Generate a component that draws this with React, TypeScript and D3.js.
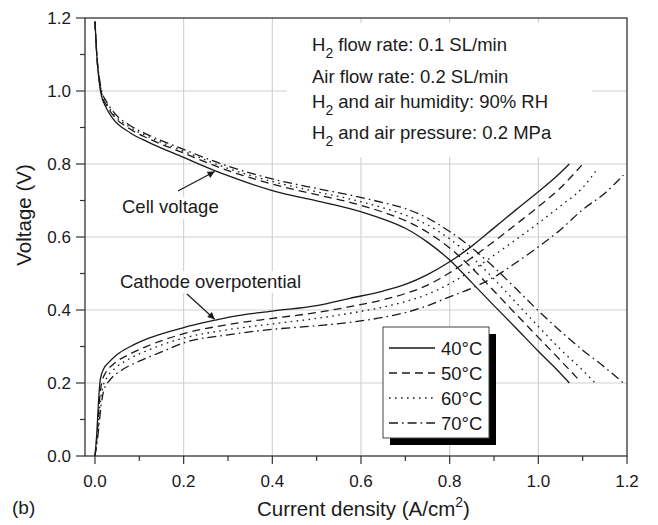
import React from "react";
import * as d3 from "d3";

type Pt = [number, number];

// Polarization data: current density (A/cm2) vs voltage (V)
const temperatures = ["40°C", "50°C", "60°C", "70°C"];

const cellVoltage40: Pt[] = [
  [0, 1.19], [0.004, 1.1], [0.01, 1.02], [0.015, 0.985], [0.025, 0.955], [0.04, 0.925],
  [0.08, 0.885], [0.12, 0.86], [0.2, 0.818], [0.27, 0.782], [0.3, 0.768], [0.4, 0.727],
  [0.5, 0.699], [0.575, 0.678], [0.65, 0.649], [0.7, 0.624], [0.75, 0.586], [0.8, 0.537],
  [0.85, 0.475], [0.9, 0.412], [0.95, 0.35], [1.0, 0.287], [1.035, 0.245], [1.07, 0.2],
];
const cellVoltage50: Pt[] = [
  [0, 1.19], [0.004, 1.1], [0.01, 1.025], [0.015, 0.99], [0.025, 0.963], [0.04, 0.935],
  [0.08, 0.895], [0.12, 0.87], [0.2, 0.83], [0.3, 0.782], [0.4, 0.745], [0.5, 0.716],
  [0.575, 0.695], [0.65, 0.668], [0.7, 0.645], [0.75, 0.613], [0.8, 0.57], [0.85, 0.515],
  [0.9, 0.452], [0.95, 0.388], [1.0, 0.325], [1.05, 0.262], [1.094, 0.205],
];
const cellVoltage60: Pt[] = [
  [0, 1.19], [0.004, 1.1], [0.01, 1.03], [0.015, 0.995], [0.025, 0.968], [0.04, 0.94],
  [0.08, 0.9], [0.12, 0.875], [0.2, 0.835], [0.3, 0.788], [0.4, 0.752], [0.5, 0.724],
  [0.575, 0.704], [0.65, 0.68], [0.7, 0.66], [0.75, 0.633], [0.8, 0.595], [0.85, 0.545],
  [0.9, 0.485], [0.95, 0.42], [1.0, 0.355], [1.05, 0.292], [1.1, 0.235], [1.128, 0.2],
];
const cellVoltage70: Pt[] = [
  [0, 1.19], [0.004, 1.1], [0.01, 1.035], [0.015, 1.0], [0.025, 0.973], [0.04, 0.945],
  [0.08, 0.905], [0.12, 0.88], [0.2, 0.84], [0.3, 0.794], [0.4, 0.759], [0.5, 0.733],
  [0.575, 0.715], [0.65, 0.694], [0.7, 0.678], [0.75, 0.652], [0.8, 0.615], [0.85, 0.57],
  [0.9, 0.517], [0.95, 0.458], [1.0, 0.398], [1.05, 0.342], [1.1, 0.29], [1.15, 0.243],
  [1.192, 0.2],
];

const cathode40: Pt[] = [
  [0, 0], [0.004, 0.06], [0.008, 0.15], [0.012, 0.21], [0.02, 0.24], [0.03, 0.255],
  [0.05, 0.278], [0.08, 0.3], [0.12, 0.322], [0.2, 0.352], [0.27, 0.372], [0.3, 0.38],
  [0.4, 0.397], [0.5, 0.412], [0.575, 0.432], [0.65, 0.452], [0.7, 0.47], [0.75, 0.497],
  [0.8, 0.532], [0.85, 0.575], [0.9, 0.625], [0.95, 0.675], [1.0, 0.724], [1.04, 0.765],
  [1.07, 0.8],
];
const cathode50: Pt[] = [
  [0, 0], [0.005, 0.06], [0.01, 0.15], [0.015, 0.2], [0.025, 0.23], [0.04, 0.25],
  [0.08, 0.28], [0.12, 0.302], [0.2, 0.335], [0.3, 0.36], [0.4, 0.377], [0.5, 0.393],
  [0.575, 0.409], [0.65, 0.428], [0.7, 0.445], [0.75, 0.468], [0.8, 0.502], [0.85, 0.543],
  [0.9, 0.588], [0.95, 0.635], [1.0, 0.683], [1.05, 0.735], [1.098, 0.797],
];
const cathode60: Pt[] = [
  [0, 0], [0.006, 0.06], [0.012, 0.15], [0.018, 0.19], [0.03, 0.22], [0.05, 0.245],
  [0.08, 0.268], [0.12, 0.29], [0.2, 0.323], [0.3, 0.346], [0.4, 0.362], [0.5, 0.377],
  [0.575, 0.391], [0.65, 0.408], [0.7, 0.423], [0.75, 0.443], [0.8, 0.472], [0.85, 0.508],
  [0.9, 0.55], [0.95, 0.593], [1.0, 0.638], [1.05, 0.685], [1.1, 0.735], [1.132, 0.785],
];
const cathode70: Pt[] = [
  [0, 0], [0.007, 0.06], [0.014, 0.14], [0.02, 0.18], [0.035, 0.21], [0.06, 0.235],
  [0.1, 0.26], [0.15, 0.285], [0.2, 0.31], [0.3, 0.332], [0.4, 0.347], [0.5, 0.357],
  [0.575, 0.366], [0.65, 0.38], [0.7, 0.393], [0.75, 0.412], [0.8, 0.436], [0.85, 0.46],
  [0.9, 0.49], [0.95, 0.53], [1.0, 0.573], [1.05, 0.62], [1.1, 0.675], [1.15, 0.72],
  [1.192, 0.77],
];

const cellSeries = [cellVoltage40, cellVoltage50, cellVoltage60, cellVoltage70];
const cathodeSeries = [cathode40, cathode50, cathode60, cathode70];

const xTickValues = [0, 0.2, 0.4, 0.6, 0.8, 1.0, 1.2];
const yTickValues = [0, 0.2, 0.4, 0.6, 0.8, 1.0, 1.2];
const xMinorValues = [0.1, 0.3, 0.5, 0.7, 0.9, 1.1];
const yMinorValues = [0.1, 0.3, 0.5, 0.7, 0.9, 1.1];

const dashStyles = ["none", "8,5", "1.6,4.4", "9,4,1.6,4"];

const W = 658;
const H = 525;
const FONT = "'Liberation Sans', Arial, Helvetica, sans-serif";
const INK = "#1a1a1a";

export default function App() {
  const x = d3.scaleLinear().domain([-0.0225, 1.2]).range([85, 627]);
  const y = d3.scaleLinear().domain([0, 1.2]).range([456, 18]);
  const line = d3
    .line<Pt>()
    .x((d) => x(d[0]))
    .y((d) => y(d[1]))
    .curve(d3.curveMonotoneX);
  const fmt = d3.format(".1f");
  const [x0, x1] = x.range();
  const [yb, yt] = y.range();

  return (
    <svg
      width={W}
      height={H}
      viewBox={`0 0 ${W} ${H}`}
      style={{ position: "absolute", left: 0, top: 0, background: "#fff" }}
      fontFamily={FONT}
    >
      <defs>
        <clipPath id="plot-area">
          <rect x={x0} y={yt} width={x1 - x0} height={yb - yt} />
        </clipPath>
        <marker id="arrowhead" viewBox="0 0 10 10" refX="10" refY="5" markerWidth="9" markerHeight="7" orient="auto" markerUnits="userSpaceOnUse">
          <path d="M0,0 L10,5 L0,10 z" fill={INK} />
        </marker>
      </defs>

      {/* grid */}
      <g stroke="#cfcfcf" strokeWidth={1.1}>
        {xTickValues.slice(1, -1).map((v) => (
          <line key={`gx${v}`} x1={x(v)} x2={x(v)} y1={yt} y2={yb} />
        ))}
        {yTickValues.slice(1, -1).map((v) => (
          <line key={`gy${v}`} x1={x0} x2={x1} y1={y(v)} y2={y(v)} />
        ))}
      </g>

      {/* condition notes */}
      <rect x={287} y={23} width={305} height={134} fill="#fff" />
      <g fontSize={18.5} fill={INK}>
        <text x={312} y={51}>
          H<tspan fontSize={14} dy={7}>2</tspan>
          <tspan dy={-7}> flow rate: 0.1 SL/min</tspan>
        </text>
        <text x={312} y={83}>Air flow rate: 0.2 SL/min</text>
        <text x={312} y={108}>
          H<tspan fontSize={14} dy={7}>2</tspan>
          <tspan dy={-7}> and air humidity: 90% RH</tspan>
        </text>
        <text x={312} y={139}>
          H<tspan fontSize={14} dy={7}>2</tspan>
          <tspan dy={-7}> and air pressure: 0.2 MPa</tspan>
        </text>
      </g>

      {/* curves */}
      <g clipPath="url(#plot-area)" fill="none" stroke={INK} strokeWidth={1.3}>
        {cellSeries.map((s, i) => (
          <path key={`c${i}`} d={line(s) || ""} strokeDasharray={dashStyles[i]} />
        ))}
        {cathodeSeries.map((s, i) => (
          <path key={`k${i}`} d={line(s) || ""} strokeDasharray={dashStyles[i]} />
        ))}
      </g>

      {/* curve labels */}
      <rect x={120} y={197} width={101} height={22} fill="#fff" />
      <text x={122} y={213} fontSize={18.5} fill={INK}>Cell voltage</text>
      <line x1={178} y1={191} x2={x(0.27)} y2={y(0.782) + 1} stroke={INK} strokeWidth={1.2} markerEnd="url(#arrowhead)" />

      <rect x={118} y={271} width={188} height={22} fill="#fff" />
      <text x={120} y={288} fontSize={18.5} fill={INK}>Cathode overpotential</text>
      <line x1={187} y1={294} x2={x(0.27)} y2={y(0.372) - 1} stroke={INK} strokeWidth={1.2} markerEnd="url(#arrowhead)" />

      {/* frame */}
      <rect x={x0} y={yt} width={x1 - x0} height={yb - yt} fill="none" stroke="#333" strokeWidth={1.3} />

      {/* axis ticks */}
      <g stroke="#333" strokeWidth={1.2}>
        {xTickValues.map((v) => (
          <line key={`tx${v}`} x1={x(v)} x2={x(v)} y1={yb} y2={yb + 8} />
        ))}
        {xMinorValues.map((v) => (
          <line key={`mx${v}`} x1={x(v)} x2={x(v)} y1={yb} y2={yb + 5} />
        ))}
        {yTickValues.map((v) => (
          <line key={`ty${v}`} x1={x0} x2={x0 - 9} y1={y(v)} y2={y(v)} />
        ))}
        {yMinorValues.map((v) => (
          <line key={`my${v}`} x1={x0} x2={x0 - 5} y1={y(v)} y2={y(v)} />
        ))}
      </g>
      <g fontSize={17} fill={INK}>
        {xTickValues.map((v) => (
          <text key={`lx${v}`} x={x(v)} y={487} textAnchor="middle">{fmt(v)}</text>
        ))}
        {yTickValues.map((v) => (
          <text key={`ly${v}`} x={71} y={y(v)} dy="0.35em" textAnchor="end">{fmt(v)}</text>
        ))}
      </g>

      {/* axis titles */}
      <text x={257} y={516} fontSize={20.5} fill={INK}>
        Current density (A/cm<tspan fontSize={14} dy={-9}>2</tspan>
        <tspan dy={9}>)</tspan>
      </text>
      <text transform="translate(31,215) rotate(-90)" textAnchor="middle" fontSize={20.5} fill={INK}>
        Voltage (V)
      </text>
      <text x={12} y={514} fontSize={19} fill={INK}>(b)</text>

      {/* legend */}
      <rect x={390} y={334} width={106} height={111} fill="#000" />
      <rect x={383} y={327} width={106} height={111} fill="#fff" stroke="#444" strokeWidth={1} />
      {temperatures.map((t, i) => {
        const cy = 348 + i * 25;
        return (
          <g key={t}>
            <line x1={389} x2={435} y1={cy} y2={cy} stroke={INK} strokeWidth={1.3} strokeDasharray={dashStyles[i]} />
            <text x={441} y={cy} dy="0.36em" fontSize={18.5} fill={INK}>{t}</text>
          </g>
        );
      })}
    </svg>
  );
}
